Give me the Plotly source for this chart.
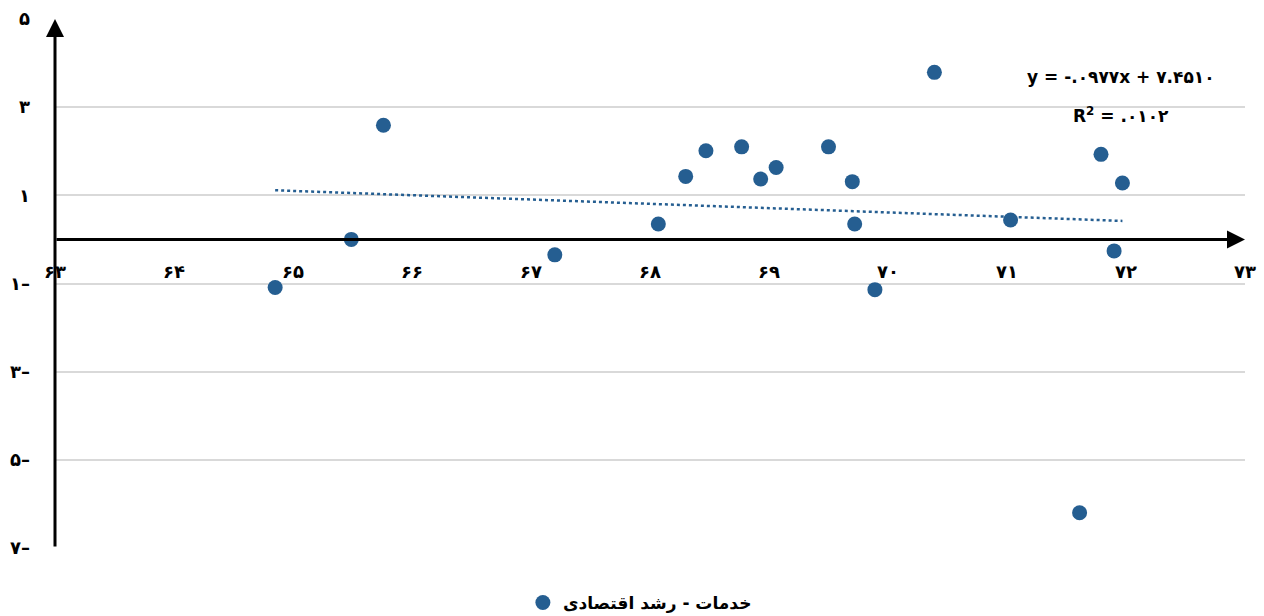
import plotly.graph_objects as go

# Services vs. economic growth observations
x_vals = [64.85, 65.49, 65.76, 67.20, 68.07, 68.30, 68.47, 68.77, 68.93, 69.06,
          69.50, 69.70, 69.72, 69.89, 70.39, 71.03, 71.79, 71.97, 71.90, 71.61]
y_vals = [-1.09, 0.00, 2.59, -0.35, 0.35, 1.43, 2.01, 2.10, 1.37, 1.63,
          2.10, 1.31, 0.35, -1.14, 3.79, 0.44, 1.93, 1.28, -0.26, -6.20]

series_name = "خدمات - رشد اقتصادی"

# Linear trend reported on the chart
slope = -0.0977
intercept = 7.4510
equation_text = "y = -.۰۹۷۷x + ۷.۴۵۱۰"
r2_text = "R<sup>2</sup> = .۰۱۰۲"

x_ticks = [63, 64, 65, 66, 67, 68, 69, 70, 71, 72, 73]
x_tick_text = ["۶۳", "۶۴", "۶۵", "۶۶", "۶۷", "۶۸", "۶۹", "۷۰", "۷۱", "۷۲", "۷۳"]
y_ticks = [5, 3, 1, -1, -3, -5, -7]
y_tick_text = ["۵", "۳", "۱", "۱–", "۳–", "۵–", "۷–"]

X_MIN, X_MAX = 63, 73
Y_MIN, Y_MAX = -7, 5

blue = "#255E91"
font_family = "DejaVu Sans"

W, H = 1264, 616
ml, mr, mt, mb = 55, 19, 19, 68
pw, ph = W - ml - mr, H - mt - mb


def px_to_paper(px, py):
    return (px - ml) / pw, 1 - (py - mt) / ph


trend_x = [min(x_vals), max(x_vals)]
trend_y = [slope * v + intercept for v in trend_x]

fig = go.Figure()

fig.add_trace(go.Scatter(
    x=trend_x, y=trend_y, mode="lines",
    line=dict(color=blue, width=2.5, dash="dot"),
    showlegend=False, hoverinfo="skip",
))

fig.add_trace(go.Scatter(
    x=x_vals, y=y_vals, mode="markers", name="<b>" + series_name + "</b>",
    marker=dict(color=blue, size=15),
))

# Axis arrows: vertical axis at x=63, horizontal axis along y=0
fig.add_annotation(x=X_MIN, y=Y_MAX, ax=X_MIN, ay=Y_MIN, xref="x", yref="y",
                   axref="x", ayref="y", showarrow=True, arrowhead=2,
                   arrowsize=1.2, arrowwidth=3, arrowcolor="black", text="")
fig.add_annotation(x=X_MAX, y=0, ax=X_MIN, ay=0, xref="x", yref="y",
                   axref="x", ayref="y", showarrow=True, arrowhead=2,
                   arrowsize=1.2, arrowwidth=3, arrowcolor="black", text="")

# Regression equation and R²
for text, (px, py) in ((equation_text, (1121, 77)), (r2_text, (1121, 115))):
    ax, ay = px_to_paper(px, py)
    fig.add_annotation(x=ax, y=ay, xref="paper", yref="paper",
                       xanchor="center", yanchor="middle",
                       text="<b>" + text + "</b>", showarrow=False,
                       font=dict(family=font_family, size=17, color="black"))

zero_pos = (0 - Y_MIN) / (Y_MAX - Y_MIN)

fig.update_layout(
    width=W, height=H,
    margin=dict(l=ml, r=mr, t=mt, b=mb, autoexpand=False),
    paper_bgcolor="white", plot_bgcolor="white",
    font=dict(family=font_family, color="black"),
    xaxis=dict(
        range=[X_MIN, X_MAX], tickvals=x_ticks,
        ticktext=["<b>" + t + "</b>" for t in x_tick_text],
        showgrid=False, zeroline=False, showline=False,
        anchor="free", position=zero_pos, ticks="",
        tickfont=dict(size=18, color="black", family=font_family),
        ticklabelstandoff=20,
    ),
    yaxis=dict(
        range=[Y_MIN, Y_MAX], tickvals=y_ticks,
        ticktext=["<b>" + t + "</b>" for t in y_tick_text],
        showgrid=True, gridcolor="#d9d9d9", gridwidth=1.5,
        zeroline=False, showline=False, ticks="",
        tickfont=dict(size=18, color="black", family=font_family),
        ticklabelstandoff=24,
    ),
    legend=dict(
        orientation="h", x=0.4915, xanchor="center",
        yref="container", y=(H - 603) / H, yanchor="middle",
        font=dict(size=17, color="black", family=font_family),
    ),
    showlegend=True,
)

fig.write_html("out.html")
